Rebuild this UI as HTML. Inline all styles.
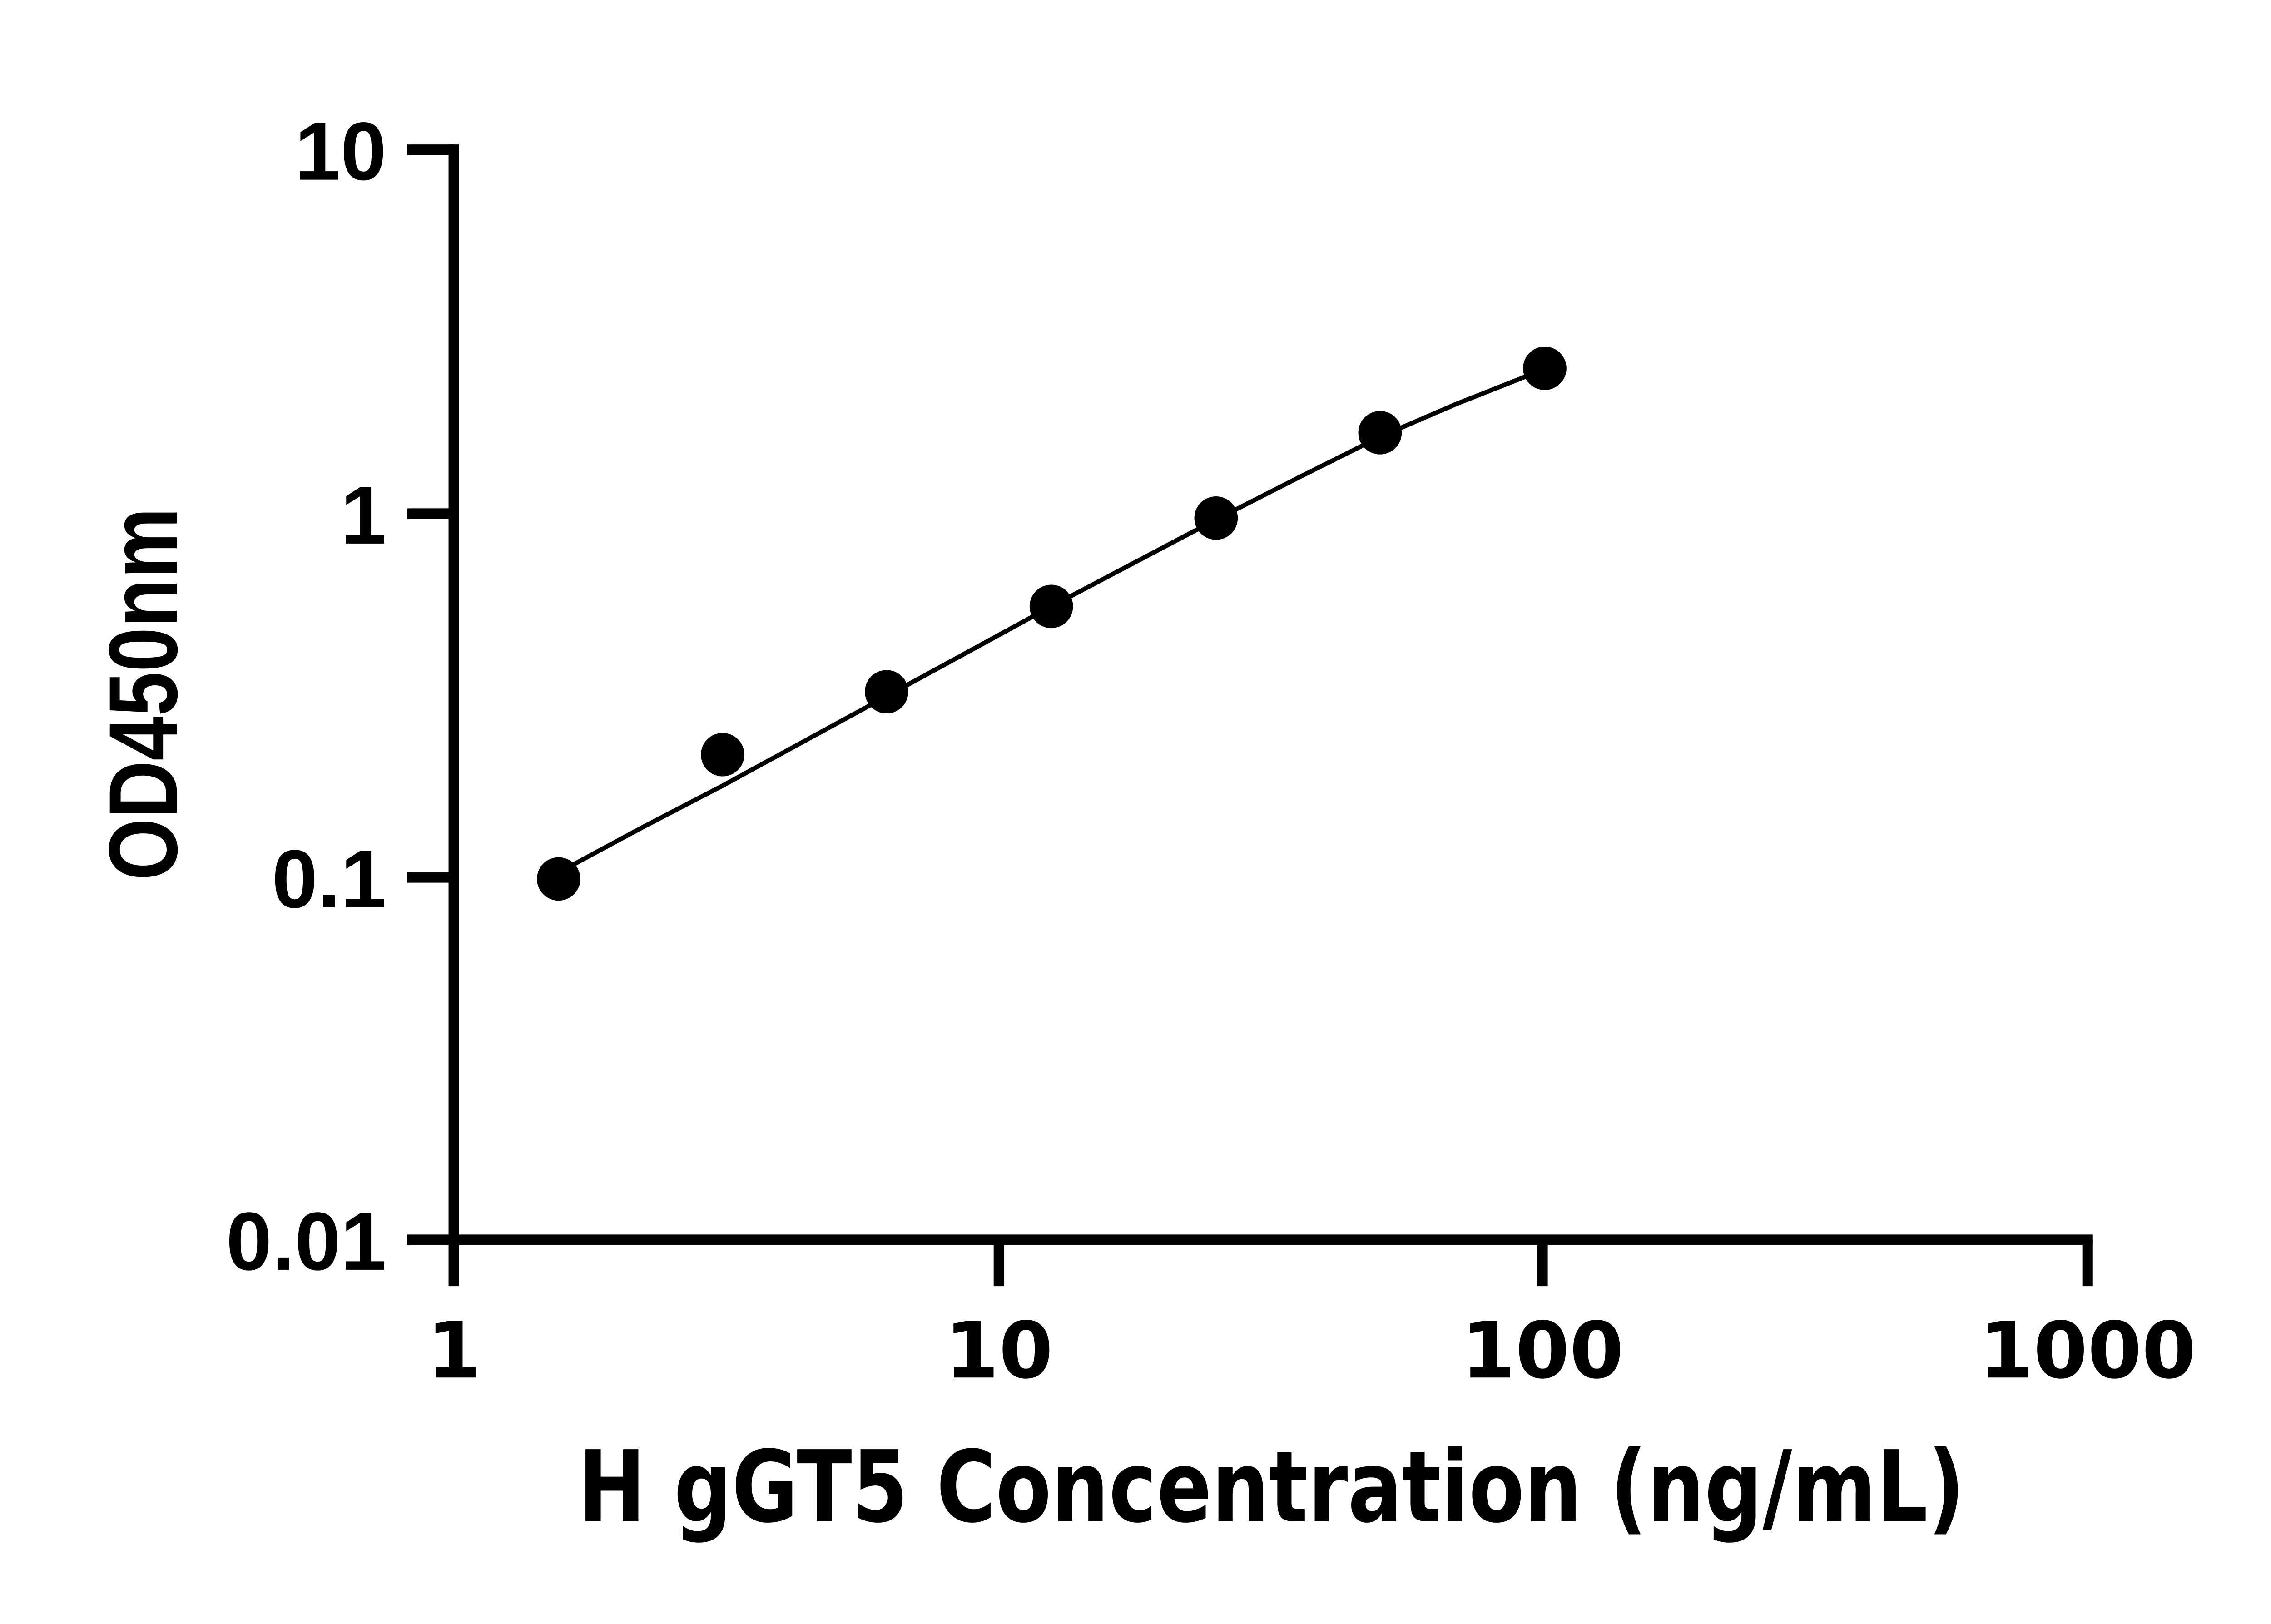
<!DOCTYPE html>
<html><head><meta charset="utf-8"><style>html,body{margin:0;padding:0;background:#fff}svg{display:block}</style></head>
<body>
<svg width="5170" height="3576" viewBox="0 0 1568 1084.6" xmlns="http://www.w3.org/2000/svg">
<rect width="1568" height="1084.6" fill="#fff"/>
<g stroke="#000" stroke-width="7" fill="none" stroke-linecap="butt">
<line x1="303" y1="96.5" x2="303" y2="859"/>
<line x1="272" y1="828" x2="1397.5" y2="828"/>
<line x1="272" y1="100" x2="303" y2="100"/>
<line x1="272" y1="343" x2="303" y2="343"/>
<line x1="272" y1="586" x2="303" y2="586"/>
<line x1="667" y1="828" x2="667" y2="859"/>
<line x1="1030" y1="828" x2="1030" y2="859"/>
<line x1="1394" y1="828" x2="1394" y2="859"/>
</g>
<g font-family="'Liberation Sans', Arial, sans-serif" font-weight="bold" font-size="55" text-anchor="end" fill="#000">
<text x="258" y="120">10</text>
<text x="258" y="363">1</text>
<text x="258" y="606">0.1</text>
<text x="258" y="848">0.01</text>
</g>
<g font-family="'DejaVu Sans', sans-serif" font-weight="bold" font-size="52" text-anchor="middle" fill="#000">
<text x="303" y="920">1</text>
<text x="667" y="920">10</text>
<text x="1030" y="920">100</text>
<text x="1394" y="920">1000</text>
</g>
<text x="849" y="1016" font-family="'DejaVu Sans', sans-serif" font-weight="bold" font-size="66" text-anchor="middle" textLength="926" lengthAdjust="spacingAndGlyphs">H gGT5 Concentration (ng/mL)</text>
<text transform="translate(118,463.5) rotate(-90)" font-family="'Liberation Sans', Arial, sans-serif" font-weight="bold" font-size="65" text-anchor="middle" textLength="249" lengthAdjust="spacingAndGlyphs">OD450nm</text>
<polyline fill="none" stroke="#000" stroke-width="3" points="378,580 430,552 482,525 537,495 592,465 647,435 702,405 757,376 812,347 867,319 921,292 972,270 1020,251"/>
<g fill="#000">
<circle cx="373" cy="587" r="14.5"/>
<circle cx="482.5" cy="504" r="14.5"/>
<circle cx="592" cy="462" r="14.5"/>
<circle cx="702" cy="405" r="14.5"/>
<circle cx="812" cy="346" r="14.5"/>
<circle cx="921.5" cy="289" r="14.5"/>
<circle cx="1031.5" cy="246" r="14.5"/>
</g>
</svg>
</body></html>
